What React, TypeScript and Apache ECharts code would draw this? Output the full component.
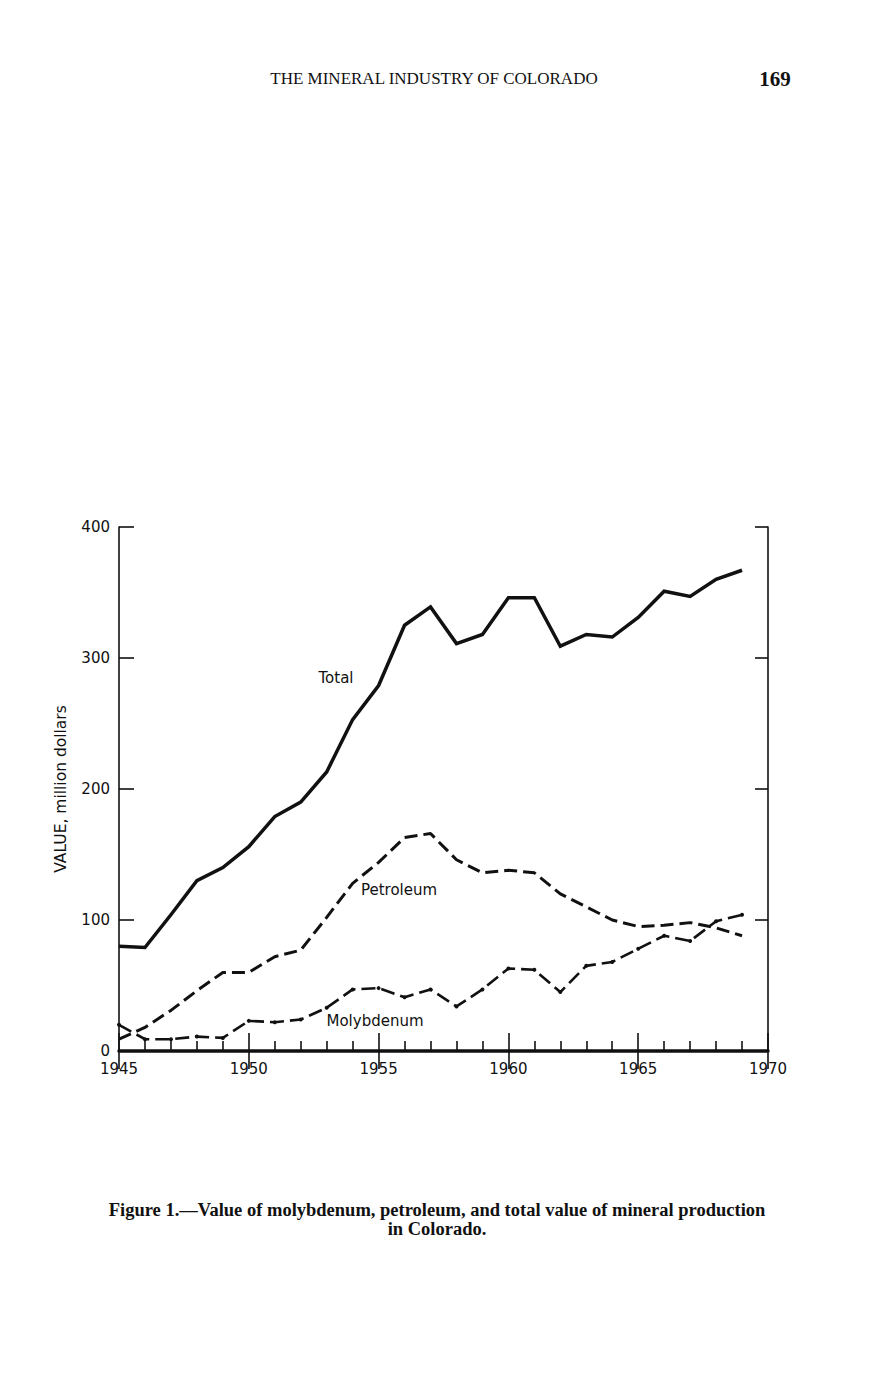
import React, { useEffect, useRef } from "react";
import * as echarts from "echarts";

const years = [1945, 1946, 1947, 1948, 1949, 1950, 1951, 1952, 1953, 1954, 1955, 1956, 1957, 1958, 1959, 1960, 1961, 1962, 1963, 1964, 1965, 1966, 1967, 1968, 1969];
const totalValues = [80, 79, 104, 130, 140, 156, 179, 190, 213, 253, 279, 325, 339, 311, 318, 346, 346, 309, 318, 316, 331, 351, 347, 360, 367];
const petroleumValues = [9, 18, 31, 46, 60, 60, 72, 77, 102, 128, 144, 163, 166, 146, 136, 138, 136, 120, 110, 100, 95, 96, 98, 94, 88];
const molybdenumValues = [20, 9, 9, 11, 10, 23, 22, 24, 33, 47, 48, 41, 47, 34, 47, 63, 62, 45, 65, 68, 78, 88, 84, 99, 104];
const yTicks = [0, 100, 200, 300, 400];
const xTicks = [1945, 1950, 1955, 1960, 1965, 1970];

const pairs = (vals: number[]) => years.map((y, i) => [y, vals[i]]);

export default function App() {
  const ref = useRef<HTMLDivElement>(null);
  useEffect(() => {
    document.body.style.margin = "0";
    const chart = echarts.init(ref.current!, null, { renderer: "svg" });
    const sans = "DejaVu Sans";
    const serif = "Liberation Serif";
    chart.setOption({
      animation: false,
      backgroundColor: "#ffffff",
      grid: { left: 119, right: 102, top: 527, bottom: 329, containLabel: false },
      xAxis: [
        {
          type: "value",
          min: xTicks[0],
          max: xTicks[xTicks.length - 1],
          interval: 5,
          position: "bottom",
          axisLine: { show: true, lineStyle: { color: "#111", width: 3.5 } },
          axisTick: { show: true, inside: true, length: 18, lineStyle: { color: "#111", width: 1.6 } },
          minorTick: { show: true, splitNumber: 5, length: 10, lineStyle: { color: "#111", width: 1.6 } },
          axisLabel: { show: true, margin: 10, color: "#111", fontFamily: sans, fontSize: 15, formatter: (v: number) => String(v) },
          splitLine: { show: false },
        },
        {
          type: "value",
          min: xTicks[0],
          max: xTicks[xTicks.length - 1],
          interval: 5,
          position: "top",
          axisLine: { show: true, lineStyle: { color: "#111", width: 1.6 } },
          axisTick: { show: true, inside: true, length: 18, lineStyle: { color: "#111", width: 1.6 } },
          axisLabel: { show: false },
          splitLine: { show: false },
        },
      ],
      yAxis: [
        {
          type: "value",
          min: yTicks[0],
          max: yTicks[yTicks.length - 1],
          interval: 100,
          position: "left",
          name: "VALUE, million dollars",
          nameLocation: "middle",
          nameGap: 50,
          nameRotate: 90,
          nameTextStyle: { color: "#111", fontFamily: sans, fontSize: 15.5 },
          axisLine: { show: true, lineStyle: { color: "#111", width: 1.6 } },
          axisTick: { show: true, inside: true, length: 15, lineStyle: { color: "#111", width: 1.6 } },
          axisLabel: { show: true, margin: 9, color: "#111", fontFamily: sans, fontSize: 15 },
          splitLine: { show: false },
        },
        {
          type: "value",
          min: yTicks[0],
          max: yTicks[yTicks.length - 1],
          interval: 100,
          position: "right",
          axisLine: { show: true, lineStyle: { color: "#111", width: 1.6 } },
          axisTick: { show: true, inside: true, length: 13, lineStyle: { color: "#111", width: 1.6 } },
          axisLabel: { show: false },
          splitLine: { show: false },
        },
      ],
      series: [
        {
          name: "Total",
          type: "line",
          data: pairs(totalValues),
          showSymbol: false,
          symbol: "none",
          lineStyle: { color: "#111", width: 3.5, join: "miter" },
        },
        {
          name: "Petroleum",
          type: "line",
          data: pairs(petroleumValues),
          showSymbol: false,
          symbol: "none",
          lineStyle: { color: "#111", width: 3, type: [13, 6] },
        },
        {
          name: "Molybdenum",
          type: "line",
          data: pairs(molybdenumValues),
          symbol: "circle",
          symbolSize: 4,
          showSymbol: true,
          itemStyle: { color: "#111" },
          lineStyle: { color: "#111", width: 2.6, type: [14, 6] },
        },
      ],
      graphic: [
        {
          type: "text",
          x: 434,
          y: 78,
          style: { text: "THE MINERAL INDUSTRY OF COLORADO", font: `17px "${serif}"`, fill: "#111", textAlign: "center", textVerticalAlign: "middle" },
        },
        {
          type: "text",
          x: 775,
          y: 79,
          style: { text: "169", font: `bold 21px "${serif}"`, fill: "#111", textAlign: "center", textVerticalAlign: "middle" },
        },
        {
          type: "text",
          x: 336,
          y: 678,
          style: { text: "Total", font: `15px "${sans}"`, fill: "#111", textAlign: "center", textVerticalAlign: "middle" },
        },
        {
          type: "text",
          x: 399,
          y: 890,
          style: { text: "Petroleum", font: `15px "${sans}"`, fill: "#111", textAlign: "center", textVerticalAlign: "middle" },
        },
        {
          type: "text",
          x: 375,
          y: 1021,
          style: { text: "Molybdenum", font: `15px "${sans}"`, fill: "#111", textAlign: "center", textVerticalAlign: "middle" },
        },
        {
          type: "text",
          x: 437,
          y: 1210,
          style: { text: "Figure 1.\u2014Value of molybdenum, petroleum, and total value of mineral production", font: `bold 18.5px "${serif}"`, fill: "#111", textAlign: "center", textVerticalAlign: "middle" },
        },
        {
          type: "text",
          x: 437,
          y: 1229,
          style: { text: "in Colorado.", font: `bold 18.5px "${serif}"`, fill: "#111", textAlign: "center", textVerticalAlign: "middle" },
        },
      ],
    });
    return () => chart.dispose();
  }, []);
  return <div ref={ref} style={{ width: 870, height: 1380 }} />;
}
